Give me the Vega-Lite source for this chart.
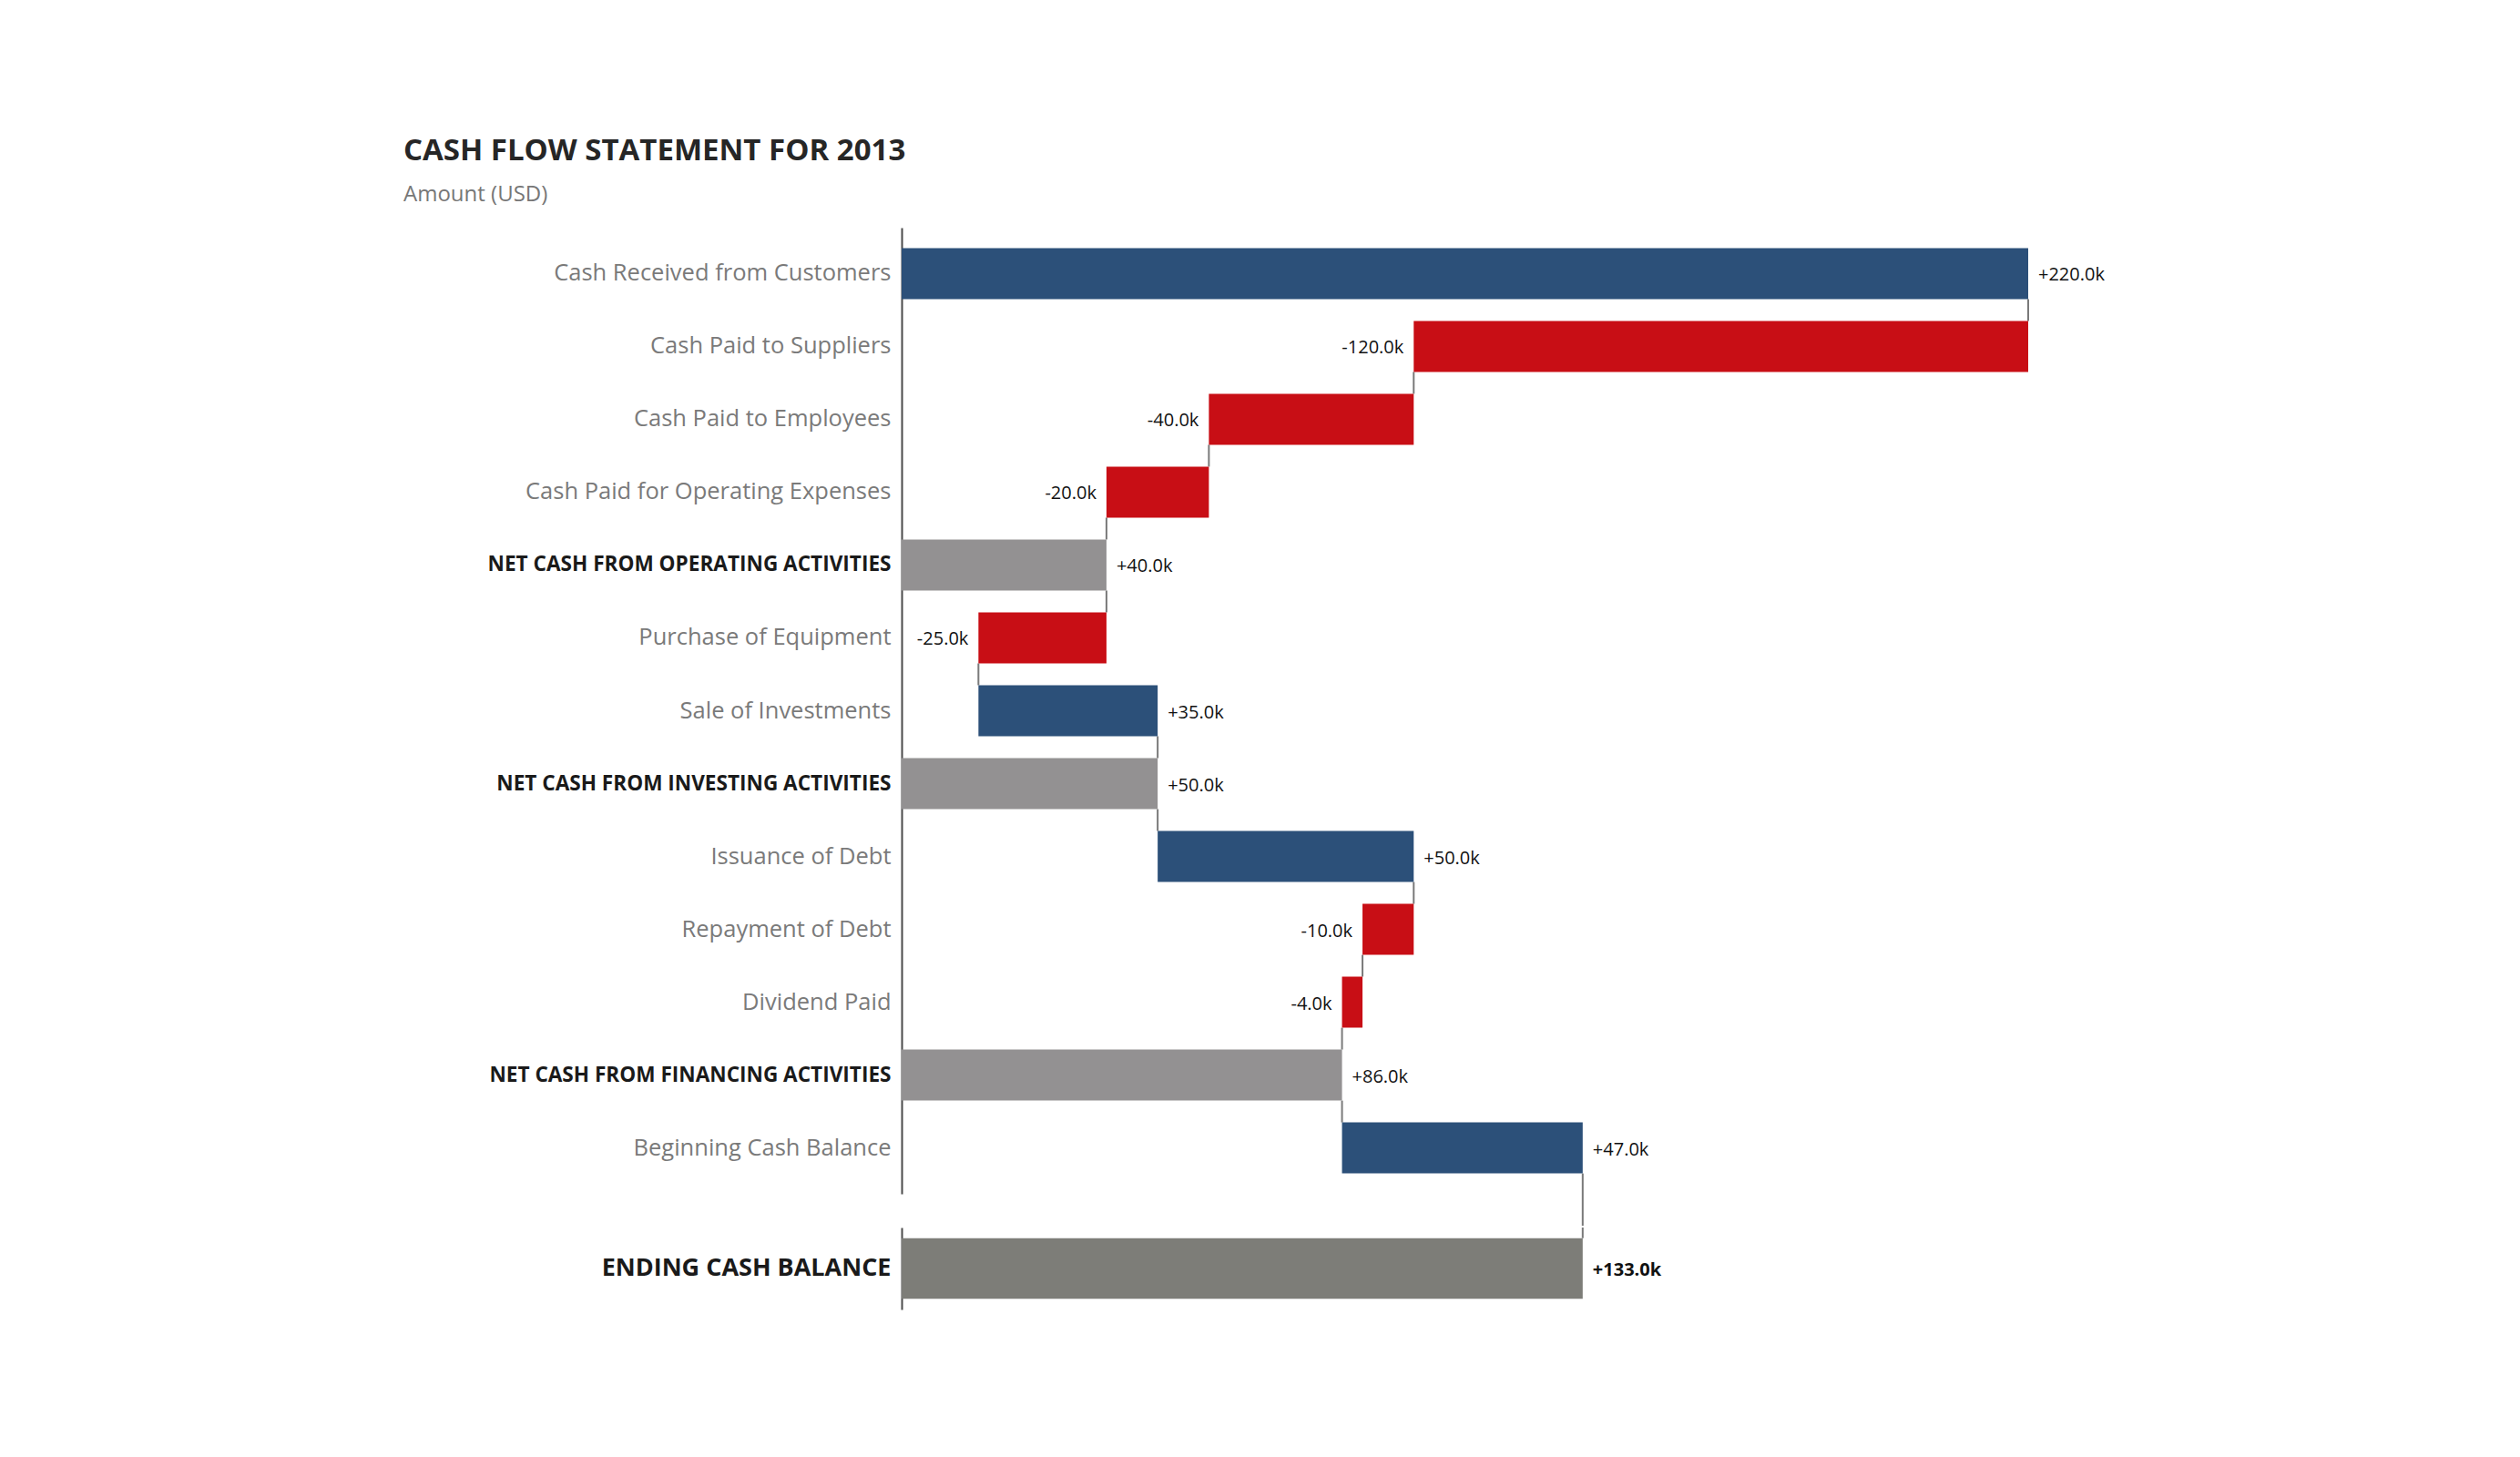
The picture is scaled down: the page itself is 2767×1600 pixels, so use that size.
{
  "$schema": "https://vega.github.io/schema/vega-lite/v6.json",
  "autosize": {"type": "pad"},
  "padding": {"left": 443, "top": 150, "right": 10, "bottom": 10},
  "background": "white",
  "config": {
    "font": "Open Sans",
    "view": {"stroke": null},
    "concat": {"spacing": 0}
  },
  "title": {
    "text": "CASH FLOW STATEMENT FOR 2013",
    "subtitle": "Amount (USD)",
    "anchor": "start",
    "frame": "group",
    "dx": -547,
    "fontSize": 33,
    "fontWeight": "bold",
    "color": "#262626",
    "subtitleFontSize": 24,
    "subtitleColor": "#777777",
    "subtitlePadding": 19,
    "offset": 24
  },
  "datasets": {
    "flows": [
      {"item": "Cash Received from Customers", "start": 0, "end": 220, "type": "inc", "label": "+220.0k", "next": "Cash Paid to Suppliers"},
      {"item": "Cash Paid to Suppliers", "start": 220, "end": 100, "type": "dec", "label": "-120.0k", "next": "Cash Paid to Employees"},
      {"item": "Cash Paid to Employees", "start": 100, "end": 60, "type": "dec", "label": "-40.0k", "next": "Cash Paid for Operating Expenses"},
      {"item": "Cash Paid for Operating Expenses", "start": 60, "end": 40, "type": "dec", "label": "-20.0k", "next": "NET CASH FROM OPERATING ACTIVITIES"},
      {"item": "NET CASH FROM OPERATING ACTIVITIES", "start": 0, "end": 40, "type": "total", "label": "+40.0k", "next": "Purchase of Equipment"},
      {"item": "Purchase of Equipment", "start": 40, "end": 15, "type": "dec", "label": "-25.0k", "next": "Sale of Investments"},
      {"item": "Sale of Investments", "start": 15, "end": 50, "type": "inc", "label": "+35.0k", "next": "NET CASH FROM INVESTING ACTIVITIES"},
      {"item": "NET CASH FROM INVESTING ACTIVITIES", "start": 0, "end": 50, "type": "total", "label": "+50.0k", "next": "Issuance of Debt"},
      {"item": "Issuance of Debt", "start": 50, "end": 100, "type": "inc", "label": "+50.0k", "next": "Repayment of Debt"},
      {"item": "Repayment of Debt", "start": 100, "end": 90, "type": "dec", "label": "-10.0k", "next": "Dividend Paid"},
      {"item": "Dividend Paid", "start": 90, "end": 86, "type": "dec", "label": "-4.0k", "next": "NET CASH FROM FINANCING ACTIVITIES"},
      {"item": "NET CASH FROM FINANCING ACTIVITIES", "start": 0, "end": 86, "type": "total", "label": "+86.0k", "next": "Beginning Cash Balance"},
      {"item": "Beginning Cash Balance", "start": 86, "end": 133, "type": "inc", "label": "+47.0k", "next": "ENDING CASH BALANCE"}
    ],
    "ending": [
      {"item": "ENDING CASH BALANCE", "start": 0, "end": 133, "type": "ending", "label": "+133.0k"}
    ]
  },
  "vconcat": [
    {
      "width": 1237,
      "height": 1061,
      "data": {"name": "flows"},
      "encoding": {
        "y": {
          "field": "item",
          "type": "nominal",
          "sort": null,
          "scale": {"paddingInner": 0.3, "paddingOuter": 0.28},
          "axis": {
            "title": null,
            "ticks": false,
            "domainColor": "#4a4a4a",
            "domainWidth": 2,
            "labelPadding": 12,
            "labelLimit": 0,
            "labelFont": "Open Sans",
            "labelFontSize": {"condition": {"test": "indexof(datum.value, 'NET CASH') === 0", "value": 22.6}, "value": 25.5},
            "labelFontWeight": {"condition": {"test": "indexof(datum.value, 'NET CASH') === 0", "value": "bold"}, "value": "normal"},
            "labelColor": {"condition": {"test": "indexof(datum.value, 'NET CASH') === 0", "value": "#1a1a1a"}, "value": "#7a7a7a"}
          }
        }
      },
      "layer": [
        {
          "transform": [{"filter": "datum.item !== 'Beginning Cash Balance'"}],
          "mark": {"type": "rule", "color": "#7a7a7a", "strokeWidth": 2},
          "encoding": {
            "x": {"field": "end", "type": "quantitative", "scale": {"domain": [0, 220], "nice": false, "zero": true}, "axis": null},
            "y": {"field": "item", "type": "nominal", "sort": null, "bandPosition": 1},
            "y2": {"field": "next", "bandPosition": 0}
          }
        },
        {
          "transform": [{"filter": "datum.item === 'Beginning Cash Balance'"}],
          "mark": {"type": "rule", "color": "#7a7a7a", "strokeWidth": 2, "y2Offset": 35},
          "encoding": {
            "x": {"field": "end", "type": "quantitative"},
            "y": {"field": "item", "type": "nominal", "sort": null, "bandPosition": 1},
            "y2": {"value": "height"}
          }
        },
        {
          "mark": {"type": "bar"},
          "encoding": {
            "x": {"field": "start", "type": "quantitative"},
            "x2": {"field": "end"},
            "color": {
              "field": "type",
              "type": "nominal",
              "scale": {"domain": ["inc", "dec", "total", "ending"], "range": ["#2c5079", "#c80e15", "#939192", "#7d7d78"]},
              "legend": null
            }
          }
        },
        {
          "transform": [{"filter": "datum.type !== 'dec'"}],
          "mark": {"type": "text", "align": "left", "baseline": "middle", "dx": 11, "dy": 2, "fontSize": 20, "color": "#111111"},
          "encoding": {
            "x": {"field": "end", "type": "quantitative"},
            "text": {"field": "label"}
          }
        },
        {
          "transform": [{"filter": "datum.type === 'dec'"}],
          "mark": {"type": "text", "align": "right", "baseline": "middle", "dx": -11, "dy": 2, "fontSize": 20, "color": "#111111"},
          "encoding": {
            "x": {"field": "end", "type": "quantitative"},
            "text": {"field": "label"}
          }
        }
      ]
    },
    {
      "width": 1237,
      "height": 90,
      "data": {"name": "ending"},
      "encoding": {
        "y": {
          "field": "item",
          "type": "nominal",
          "scale": {"paddingInner": 0.26, "paddingOuter": 0.13},
          "axis": {
            "title": null,
            "ticks": false,
            "domainColor": "#4a4a4a",
            "domainWidth": 2,
            "labelPadding": 12,
            "labelLimit": 0,
            "labelFont": "Open Sans",
            "labelFontSize": 27,
            "labelFontWeight": "bold",
            "labelColor": "#1a1a1a"
          }
        }
      },
      "layer": [
        {
          "mark": {"type": "rule", "color": "#7a7a7a", "strokeWidth": 2},
          "encoding": {
            "x": {"field": "end", "type": "quantitative", "scale": {"domain": [0, 220], "nice": false, "zero": true}, "axis": null},
            "y": {"field": "item", "type": "nominal", "bandPosition": 0},
            "y2": {"value": 0}
          }
        },
        {
          "mark": {"type": "bar"},
          "encoding": {
            "x": {"field": "start", "type": "quantitative"},
            "x2": {"field": "end"},
            "color": {
              "field": "type",
              "type": "nominal",
              "scale": {"domain": ["inc", "dec", "total", "ending"], "range": ["#2c5079", "#c80e15", "#939192", "#7d7d78"]},
              "legend": null
            }
          }
        },
        {
          "mark": {"type": "text", "align": "left", "baseline": "middle", "dx": 11, "dy": 2, "fontSize": 20, "fontWeight": "bold", "color": "#111111"},
          "encoding": {
            "x": {"field": "end", "type": "quantitative"},
            "text": {"field": "label"}
          }
        }
      ]
    }
  ]
}
